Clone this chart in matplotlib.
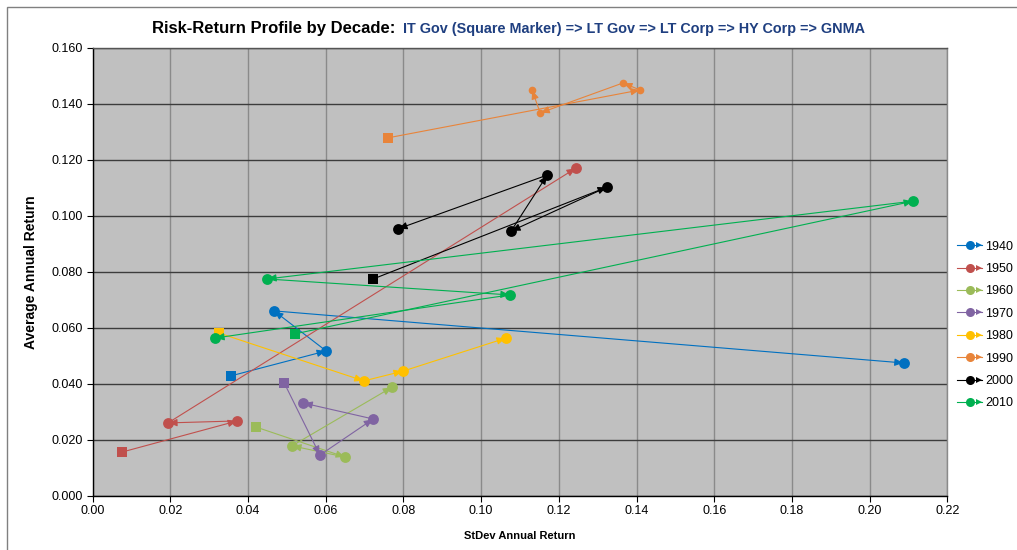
import matplotlib.pyplot as plt
from matplotlib.lines import Line2D
from matplotlib.legend_handler import HandlerLine2D
from matplotlib.patches import Rectangle
from matplotlib.ticker import FormatStrFormatter, MultipleLocator

plt.rcParams['font.family'] = ['Liberation Sans', 'DejaVu Sans']

# order within each decade: IT Gov (square), LT Gov, LT Corp, HY Corp, GNMA
decades = ['1940', '1950', '1960', '1970', '1980', '1990', '2000', '2010']
line_colors = ['#0070C0', '#C0504D', '#9BBB59', '#8064A2',
               '#FFC000', '#E8843A', '#000000', '#00B050']

sd_1940 = [0.0356, 0.0601, 0.0467, 0.2088]
ret_1940 = [0.0428, 0.0517, 0.0660, 0.0474]
sd_1950 = [0.0076, 0.0372, 0.0194, 0.1244]
ret_1950 = [0.0156, 0.0267, 0.0260, 0.1170]
sd_1960 = [0.0421, 0.0650, 0.0513, 0.0771]
ret_1960 = [0.0245, 0.0138, 0.0178, 0.0388]
sd_1970 = [0.0493, 0.0585, 0.0722, 0.0542]
ret_1970 = [0.0403, 0.0145, 0.0274, 0.0331]
sd_1980 = [0.0325, 0.0698, 0.0799, 0.1064]
ret_1980 = [0.0581, 0.0410, 0.0445, 0.0563]
sd_1990 = [0.0760, 0.1409, 0.1365, 0.1152, 0.1131]
ret_1990 = [0.1278, 0.1449, 0.1474, 0.1367, 0.1449]
sd_2000 = [0.0722, 0.1324, 0.1077, 0.1170, 0.0786]
ret_2000 = [0.0774, 0.1102, 0.0945, 0.1145, 0.0953]
sd_2010 = [0.0521, 0.2112, 0.0449, 0.1074, 0.0315]
ret_2010 = [0.0578, 0.1052, 0.0774, 0.0717, 0.0563]

series = [(sd_1940, ret_1940), (sd_1950, ret_1950), (sd_1960, ret_1960),
          (sd_1970, ret_1970), (sd_1980, ret_1980), (sd_1990, ret_1990),
          (sd_2000, ret_2000), (sd_2010, ret_2010)]


class HandlerArrowLine(HandlerLine2D):
    # legend key: line + circle marker + arrowhead at the right end
    def create_artists(self, legend, orig_handle, xdescent, ydescent,
                       width, height, fontsize, trans):
        artists = super().create_artists(legend, orig_handle, xdescent, ydescent,
                                         width, height, fontsize, trans)
        y = (height - ydescent) / 2.0
        head = Line2D([-xdescent + width - 2], [y], marker='>', linestyle='none',
                      color=orig_handle.get_color(), markersize=5,
                      markeredgewidth=0)
        head.set_transform(trans)
        return artists + [head]


fig = plt.figure(figsize=(10.17, 5.5), dpi=100)
fig.patch.set_facecolor('white')
fig.patches.append(Rectangle((7 / 1017, -0.01), 1.1, 1 - 7 / 550 + 0.01,
                             transform=fig.transFigure, fill=False,
                             edgecolor='#808080', linewidth=1.0))

ax = fig.add_axes([0.0911, 0.0987, 0.8404, 0.8146])
ax.set_facecolor('#C0C0C0')

for k, ((sd, ret), c) in enumerate(zip(series, line_colors)):
    z = 2 + k * 0.1
    for i in range(len(sd) - 1):
        ax.annotate('', xy=(sd[i + 1], ret[i + 1]), xytext=(sd[i], ret[i]),
                    arrowprops=dict(arrowstyle='-|>,head_length=0.5,head_width=0.22',
                                    color=c, lw=0.8, shrinkA=0, shrinkB=0.5,
                                    mutation_scale=10),
                    zorder=z)
    ms = 5.5 if decades[k] == '1990' else 7.8
    ax.plot(sd[1:], ret[1:], 'o', color=c, markersize=ms,
            markeredgewidth=0, zorder=z + 0.05)
    ax.plot(sd[:1], ret[:1], 's', color=c, markersize=7.5,
            markeredgewidth=0, zorder=z + 0.05)

ax.set_xlim(0, 0.22)
ax.set_ylim(0, 0.16)
ax.xaxis.set_major_locator(MultipleLocator(0.02))
ax.yaxis.set_major_locator(MultipleLocator(0.02))
ax.xaxis.set_major_formatter(FormatStrFormatter('%.2f'))
ax.yaxis.set_major_formatter(FormatStrFormatter('%.3f'))
ax.tick_params(direction='out', length=4, width=0.8, labelsize=9, pad=3,
               colors='black')

ax.set_axisbelow(True)
ax.grid(axis='x', color='#8A8A8A', linewidth=1.0)
ax.grid(axis='y', color='#3C3C3C', linewidth=1.0)
ax.spines['left'].set_color('black')
ax.spines['bottom'].set_color('black')
ax.spines['top'].set_color('#555555')
ax.spines['right'].set_color('#8A8A8A')
for s in ax.spines.values():
    s.set_linewidth(1.0)

ax.set_xlabel('StDev Annual Return', fontsize=8, fontweight='bold', labelpad=10)
ax.set_ylabel('Average Annual Return', fontsize=10, fontweight='bold', labelpad=10)

# two-part title, second part placed right after the first
t1 = fig.text(152 / 1017, 1 - 28 / 550, 'Risk-Return Profile by Decade:',
              fontsize=12, fontweight='bold', color='black',
              ha='left', va='center')
renderer = fig.canvas.get_renderer()
bb = t1.get_window_extent(renderer=renderer)
fig.text(bb.x1 / fig.bbox.width + 8 / 1017, 1 - 29 / 550,
         'IT Gov (Square Marker) => LT Gov => LT Corp => HY Corp => GNMA',
         fontsize=10.4, fontweight='bold', color='#1F3F80',
         ha='left', va='center')

handles = [Line2D([], [], color=c, marker='o', markersize=6.5, lw=0.8,
                  markeredgewidth=0, label=d)
           for d, c in zip(decades, line_colors)]
fig.legend(handles=handles, loc='center left',
           bbox_to_anchor=(952 / 1017, 1 - 325 / 550),
           frameon=False, fontsize=9, handlelength=2.0, handletextpad=0.25,
           labelspacing=0.83, borderaxespad=0,
           handler_map={Line2D: HandlerArrowLine(numpoints=1)})

fig.savefig('out.png', dpi=100)
